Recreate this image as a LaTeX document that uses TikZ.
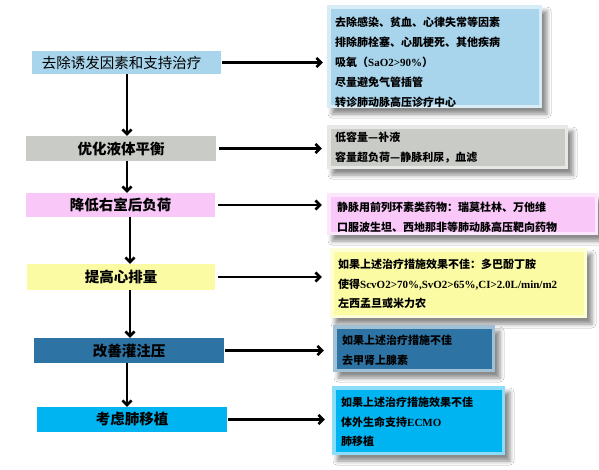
\documentclass[tikz,border=0pt]{standalone}
\usepackage{fontspec}
\setmainfont{Liberation Serif}
\newfontfamily\cjk{Noto Sans CJK SC}
\usetikzlibrary{arrows.meta,shadows.blur}
\newcommand\lat[1]{{\rmfamily\bfseries #1}}
\definecolor{clblue}{HTML}{A9D5EC}
\definecolor{cgray}{HTML}{C9CBC7}
\definecolor{cpink}{HTML}{F9C8F9}
\definecolor{cyellow}{HTML}{FBFBA3}
\definecolor{csteel}{HTML}{2D74A4}
\definecolor{ccyan}{HTML}{00B4F2}
\begin{document}
\begin{tikzpicture}[x=1pt,y=-1pt,
  lbox/.style={inner sep=0pt, font=\cjk\bfseries\fontsize{14.5}{16}\selectfont},
  rbox/.style={inner sep=0pt, fill=#1!45!white,
    blur shadow={shadow xshift=5pt,shadow yshift=-6pt,shadow blur radius=4pt,shadow opacity=45},
    path picture={\fill[#1] ([xshift=3.5pt,yshift=3.5pt]path picture bounding box.south west)
      rectangle ([xshift=-3.5pt,yshift=-3.5pt]path picture bounding box.north east);}},
  rtext/.style={anchor=west, align=left, inner sep=0pt, font=\cjk\bfseries\fontsize{11}{19.8}\selectfont},
  arr/.style={line width=2.6pt, -{Straight Barb[length=4.5pt,width=9pt]}},
]
\useasboundingbox[fill=white] (0,0) rectangle (599,469);

% left boxes
\node[lbox, fill=clblue, minimum width=189pt, minimum height=23pt, font=\cjk\fontsize{14.5}{16}\selectfont] (b1) at (126.5,62.5) {\hspace*{-10pt}去除诱发因素和支持治疗};
\node[lbox, fill=cgray, minimum width=190pt, minimum height=25pt] (b2) at (121,148.5) {优化液体平衡};
\node[lbox, fill=cpink, minimum width=189pt, minimum height=24pt] (b3) at (120.5,205) {降低右室后负荷};
\node[lbox, fill=cyellow, minimum width=188pt, minimum height=26pt] (b4) at (121,277) {提高心排量};
\node[lbox, fill=csteel, minimum width=190pt, minimum height=25pt] (b5) at (129,350.5) {改善灌注压};
\node[lbox, fill=ccyan, minimum width=190pt, minimum height=25pt] (b6) at (132,419.5) {考虑肺移植};

% right boxes
\node[rbox=clblue, minimum width=215pt, minimum height=103pt] (r1) at (434.5,56.5) {};
\node[rbox=cgray, minimum width=241pt, minimum height=44pt] (r2) at (447.5,147) {};
\node[rbox=cpink, minimum width=271pt, minimum height=42pt] (r3) at (462.5,214) {};
\node[rbox=cyellow, minimum width=257pt, minimum height=70pt] (r4) at (458.5,283) {};
\node[rbox=csteel, minimum width=162pt, minimum height=47pt] (r5) at (414,348.5) {};
\node[rbox=ccyan, minimum width=173pt, minimum height=69pt] (r6) at (418.5,420.5) {};

\node[rtext] (t1) at (335,62.3) {去除感染、贫血、心律失常等因素\\排除肺栓塞、心肌梗死、其他疾病\\吸氧（\lat{SaO2>90\%}）\\尽量避免气管插管\\转诊肺动脉高压诊疗中心};
\node[rtext] (t2) at (335,147.5) {低容量—补液\\容量超负荷—静脉利尿，血滤};
\node[rtext] (t3) at (337,217) {静脉用前列环素类药物：瑞莫杜林、万他维\\口服波生坦、西地那非等肺动脉高压靶向药物};
\node[rtext] (t4) at (338,284) {如果上述治疗措施效果不佳：多巴酚丁胺\\使得\lat{ScvO2>70\%,SvO2>65\%,CI>2.0L/min/m2}\\左西孟旦或米力农};
\node[rtext] (t5) at (342,350.5) {如果上述治疗措施不佳\\去甲肾上腺素};
\node[rtext] (t6) at (341,422) {如果上述治疗措施效果不佳\\体外生命支持\lat{ECMO}\\肺移植};

% vertical arrows
\coordinate (xa) at (127,0);
\coordinate (xb) at (130,0);
\draw[arr] (b1.south -| xa) -- (b2.north -| xa);
\draw[arr] (b2.south -| xa) -- (b3.north -| xa);
\draw[arr] (b3.south -| xb) -- (b4.north -| xb);
\draw[arr] (b4.south -| xb) -- (b5.north -| xb);
\draw[arr] (b5.south -| xa) -- (b6.north -| xa);

% horizontal arrows
\draw[arr] ([xshift=1pt]b1.east) -- ([xshift=-4pt]b1.east -| r1.west);
\draw[arr] ([xshift=3pt]b2.east) -- ([xshift=-5pt]b2.east -| r2.west);
\draw[arr] ([xshift=3pt]b3.east) -- ([xshift=-5pt]b3.east -| r3.west);
\draw[arr] ([xshift=3pt]b4.east) -- ([xshift=-8pt]b4.east -| r4.west);
\draw[arr] ([xshift=1pt]b5.east) -- ([xshift=-9pt]b5.east -| r5.west);
\draw[arr] ([xshift=1pt]b6.east) -- ([xshift=-7pt]b6.east -| r6.west);
\end{tikzpicture}
\end{document}
